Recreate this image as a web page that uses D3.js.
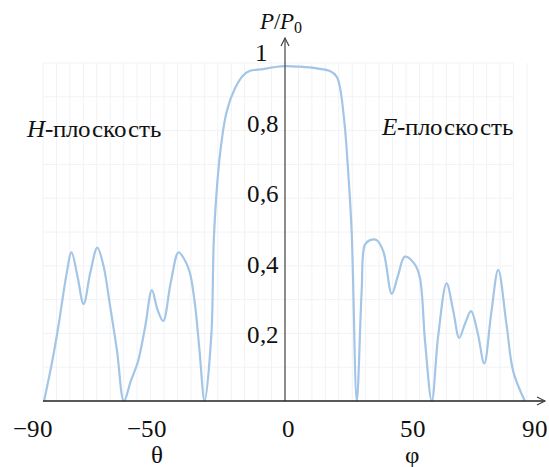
<!DOCTYPE html>
<html>
<head>
<meta charset="utf-8">
<script src="https://cdn.jsdelivr.net/npm/d3@7/dist/d3.min.js"></script>
<style>
  @font-face { font-family: "ChartSerif"; font-style: normal; font-weight: 400;
    src: local("Liberation Serif"), local("LiberationSerif"), local("Liberation Serif Regular"); }
  @font-face { font-family: "ChartSerif"; font-style: italic; font-weight: 400;
    src: local("Liberation Serif Italic"), local("LiberationSerif-Italic"); }
  svg text, svg tspan { font-family: "ChartSerif", "Liberation Serif", "Tinos", "Nimbus Roman", "FreeSerif" !important; }
</style>
</head>
<body style="margin:0">
<svg id="chart" width="549" height="467"></svg>
<script>
// ---- data ----
const angles = [-89.6,-86.6,-84.2,-81.3,-79.4,-77.2,-74.9,-72.4,-69.8,-67.5,-65.3,-62.5,-59.9,
  -57.3,-54.7,-52,-49.5,-47.4,-45.3,-42.5,-39.6,-37.5,-35.5,-33.6,-31.8,-29.9,
  -27.4,-26.4,-24.2,-21.7,-18.6,-15.5,-13,-8.1,-3.1,0,5.6,11.8,16.7,19.2,20.5,22.3,23.5,24.8,
  26.7,28.5,29.7,31.6,34.1,36.6,39.7,42,44.6,48.3,50.2,52.1,54.6,
  57,60.1,62.5,64.8,67,69.2,71.7,74.1,76.7,79.3,82.4,84.9,89.2];
const power = [0,0.116,0.225,0.373,0.44,0.37,0.287,0.38,0.454,0.40,0.294,0.15,0,
  0.06,0.116,0.22,0.328,0.27,0.237,0.35,0.44,0.42,0.383,0.294,0.15,0,
  0.195,0.491,0.728,0.856,0.925,0.964,0.977,0.982,0.989,0.991,0.989,0.984,0.976,0.96,0.925,0.807,0.678,0.50,
  0,0.323,0.462,0.476,0.476,0.442,0.317,0.37,0.427,0.404,0.363,0.175,0,
  0.195,0.348,0.27,0.187,0.23,0.266,0.2,0.111,0.26,0.388,0.225,0.087,0];
const xTicks = [-90, -50, 0, 50, 90];
const xTickLabels = ["\u221290", "\u221250", "0", "50", "90"];
const yTicks = [0.2, 0.4, 0.6, 0.8, 1];
const yTickLabels = ["0,2", "0,4", "0,6", "0,8", "1"];
const gridX = d3.range(-90, 91, 5);
const gridY = d3.range(0.1, 1.01, 0.1);

// ---- layout ----
const svg = d3.select("#chart");
const x = d3.scaleLinear().domain([-90, 90]).range([43, 527]);
const y = d3.scaleLinear().domain([0, 1]).range([401, 63]);
const yLab = d3.scaleLinear().domain([0.2, 1]).range([343, 61]);

function txt(sel) {
  sel.style("font-family", '"ChartSerif", "Liberation Serif", "Tinos", "Nimbus Roman", "FreeSerif"', "important");
  sel.style("fill", "#111");
}

svg.append("defs").append("clipPath").attr("id", "clip")
  .append("rect").attr("x", 0).attr("y", 0).attr("width", 549).attr("height", y(0) + 0.5);

// faint grid
const grid = svg.append("g").attr("stroke", "#f0f2f5").attr("stroke-width", 1);
grid.selectAll("line.gx").data(gridX).join("line")
  .attr("x1", d => x(d)).attr("x2", d => x(d))
  .attr("y1", y(0)).attr("y2", y(1));
grid.selectAll("line.gy").data(gridY).join("line")
  .attr("x1", x(-90)).attr("x2", x(85))
  .attr("y1", d => y(d)).attr("y2", d => y(d));

// curve
const pts = angles.map((a, i) => [a, power[i]]);
const line = d3.line().x(d => x(d[0])).y(d => y(d[1])).curve(d3.curveCatmullRom.alpha(0.5));
svg.append("path").datum(pts)
  .attr("d", line)
  .attr("clip-path", "url(#clip)")
  .attr("fill", "none")
  .attr("stroke", "#a3c5e6")
  .attr("stroke-width", 2.2)
  .attr("stroke-linejoin", "round");

// axes
const x0 = x(0), yb = y(0);
svg.append("line").attr("x1", x0).attr("x2", x0).attr("y1", yb).attr("y2", 38)
  .attr("stroke", "#444").attr("stroke-width", 1.2);
svg.append("path").attr("d", `M${x0-4},${46} L${x0},${38} L${x0+4},${46}`)
  .attr("fill", "none").attr("stroke", "#444").attr("stroke-width", 1.2);
svg.append("line").attr("x1", x(-90)).attr("x2", 545).attr("y1", yb).attr("y2", yb)
  .attr("stroke", "#222").attr("stroke-width", 1.6);
svg.append("path").attr("d", `M${537},${yb-4} L${545},${yb} L${537},${yb+4}`)
  .attr("fill", "none").attr("stroke", "#444").attr("stroke-width", 1.2);

// x tick labels
const xDx = [-10, -4, 3, -6, 8];
const xt = svg.append("g").selectAll("text").data(xTicks).join("text")
  .attr("x", (d, i) => x(d) + xDx[i]).attr("y", 437)
  .attr("text-anchor", "middle").attr("font-size", 25)
  .text((d, i) => xTickLabels[i]);
txt(xt);

// y tick labels
const yt = svg.append("g").selectAll("text").data(yTicks).join("text")
  .attr("x", d => d === 1 ? x0 - 17 : x0 - 6).attr("y", d => yLab(d))
  .attr("text-anchor", "end").attr("font-size", 25)
  .text((d, i) => yTickLabels[i]);
txt(yt);

// axis titles
const th = svg.append("text").attr("x", 157).attr("y", 463).attr("text-anchor", "middle")
  .attr("font-size", 25).text("\u03b8");
txt(th);
const ph = svg.append("text").attr("x", 412).attr("y", 463).attr("text-anchor", "middle")
  .attr("font-size", 25).text("\u03c6");
txt(ph);

const pt = svg.append("text").attr("x", 260).attr("y", 29).attr("font-size", 23);
txt(pt);
pt.append("tspan").attr("font-style", "italic").text("P");
pt.append("tspan").text("/");
pt.append("tspan").attr("font-style", "italic").text("P");
pt.append("tspan").attr("font-size", 16).attr("dy", 4).text("0");

// plane labels
const hl = svg.append("text").attr("x", 27).attr("y", 137).attr("font-size", 25);
txt(hl);
hl.append("tspan").attr("font-style", "italic").text("H");
hl.append("tspan").text("-плоскость");
const el = svg.append("text").attr("x", 382).attr("y", 135).attr("font-size", 25);
txt(el);
el.append("tspan").attr("font-style", "italic").text("E");
el.append("tspan").text("-плоскость");
</script>
</body>
</html>
